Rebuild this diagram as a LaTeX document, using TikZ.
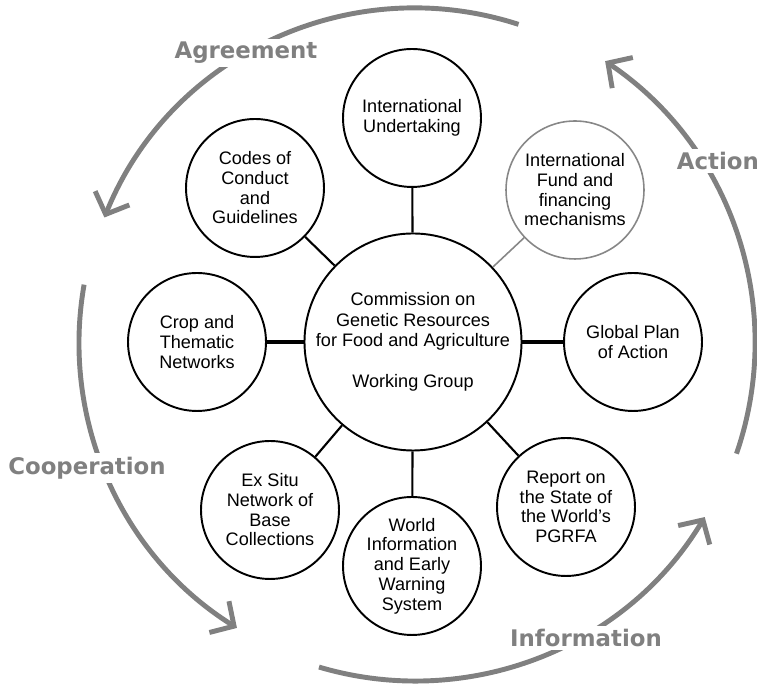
\documentclass[tikz,border=0pt]{standalone}
\usepackage{fontspec}
\setmainfont{Liberation Sans}
\newfontfamily\arcfont{DejaVu Sans}
\usetikzlibrary{arrows.meta}
\definecolor{arcgray}{RGB}{128,128,128}
\definecolor{fundgray}{RGB}{135,135,135}

\begin{document}
\begin{tikzpicture}[x=0.02cm,y=0.02cm,
    hub/.style={circle,draw,line width=1.1pt,minimum size=4.24cm,inner sep=0pt,align=center,
      font=\fontsize{10.3}{11.6}\selectfont},
    item/.style={circle,draw,line width=1.1pt,minimum size=2.76cm,inner sep=0pt,align=center,
      font=\fontsize{10.3}{11.2}\selectfont},
    link/.style={line width=1.2pt},
    cycle/.style={arcgray,line width=2.8pt,-{Straight Barb[length=10pt,width=21pt]}},
    cyclelabel/.style={fill=white,inner sep=2pt,text=arcgray,
      font=\arcfont\bfseries\fontsize{13}{15}\selectfont}]
  \useasboundingbox (0,0) rectangle (757,688);

  % Drawing arc Agreement
  \draw [cycle] (415,345) ++(72:335) arc (72:158:335);%
  % Drawing arc Cooperation
  \draw [cycle] (415,345) ++(170:336) arc (170:238:336);%
  % Drawing arc Information
  \draw [cycle] (415,345) ++(253.5:338) arc (253.5:329:338);%
  % Drawing arc Action
  \draw [cycle] (415,345) ++(-19:340) arc (-19:56:340);%

  % Marking labels on the arcs
  \node [cyclelabel] (agreement) at (246,635) {Agreement};%
  \node [cyclelabel] (cooperation) at (87,220) {Cooperation};%
  \node [cyclelabel] (information) at (586,50) {Information};%
  \node [cyclelabel, anchor=west] (action) at (673,527) {Action};%

  % Drawing circle Commission
  \node [hub] (commission) at (413,346) {Commission on\\Genetic Resources\\for Food and Agriculture\\[11.6pt]Working Group};%

  % Drawing circles round it
  \node [item] (undertaking) at (412,570) {International\\Undertaking};%
  \node [item, draw=fundgray, line width=0.9pt] (fund) at (575,498) {International\\Fund and\\financing\\mechanisms};%
  \node [item] (plan) at (633,346) {Global Plan\\of Action};%
  \node [item] (report) at (566,181) {Report on\\the State of\\the World's\\PGRFA};%
  \node [item] (world) at (412,122) {World\\Information\\and Early\\Warning\\System};%
  \node [item] (exsitu) at (270,178) {Ex Situ\\Network of\\Base\\Collections};%
  \node [item] (crop) at (197,346) {Crop and\\Thematic\\Networks};%
  \node [item] (codes) at (255,500) {Codes of\\Conduct\\and\\Guidelines};%

  % Drawing links
  \draw [link] (commission) -- (undertaking);%
  \draw [link, fundgray, line width=0.9pt] (commission) -- (fund);%
  \draw [link, line width=2.3pt] (commission) -- (plan);%
  \draw [link] (commission) -- (report);%
  \draw [link] (commission) -- (world);%
  \draw [link] (commission) -- (exsitu);%
  \draw [link, line width=2.3pt] (commission) -- (crop);%
  \draw [link] (commission) -- (codes);%
\end{tikzpicture}
\end{document}
